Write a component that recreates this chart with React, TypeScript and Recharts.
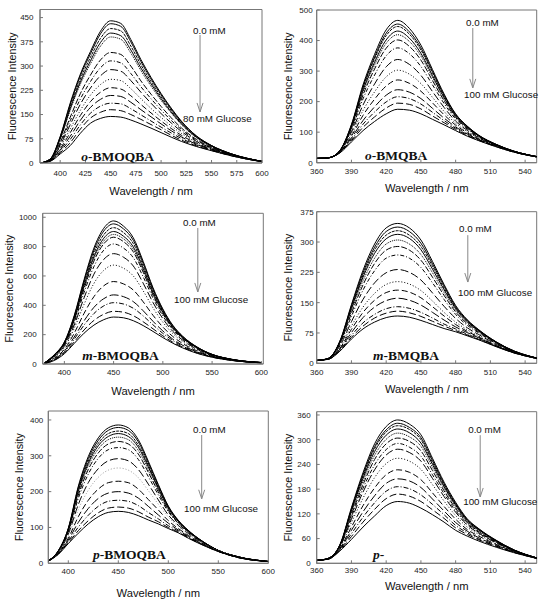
import React from "react";
import { LineChart, Line, XAxis, YAxis, ReferenceArea, ReferenceLine, ReferenceDot } from "recharts";

// ---- o-BMOQBA (top left), 0 mM -> 80 mM glucose ----
const oBmoqbaWavelengths = [380, 390, 400, 410, 420, 430, 440, 450, 460, 470, 480, 490, 500, 510, 520, 535, 550, 570, 600];
const oBmoqbaSpectra = [
  [0, 12, 82, 186, 275, 345, 408, 440, 432, 382, 320, 265, 215, 170, 130, 84, 54, 28, 5],
  [0, 12, 80, 182, 270, 338, 400, 431, 423, 375, 314, 260, 211, 167, 128, 83, 54, 28, 5],
  [0, 11, 78, 175, 260, 327, 386, 416, 409, 362, 304, 252, 205, 163, 125, 81, 53, 28, 5],
  [0, 11, 75, 169, 251, 316, 373, 402, 394, 350, 294, 245, 199, 158, 122, 80, 52, 27, 5],
  [0, 11, 73, 164, 244, 307, 362, 390, 383, 340, 286, 238, 194, 155, 119, 78, 51, 27, 5],
  [0, 10, 64, 142, 215, 272, 319, 342, 336, 300, 254, 213, 175, 140, 109, 73, 49, 26, 5],
  [0, 9, 59, 131, 198, 252, 295, 316, 310, 277, 236, 199, 164, 132, 104, 70, 47, 26, 5],
  [0, 8, 55, 119, 182, 232, 270, 289, 284, 255, 219, 185, 153, 124, 98, 67, 46, 25, 5],
  [0, 8, 49, 106, 163, 210, 243, 259, 255, 230, 199, 169, 141, 115, 92, 64, 44, 24, 4],
  [0, 7, 44, 94, 147, 190, 219, 233, 229, 208, 181, 155, 130, 107, 86, 61, 43, 24, 4],
  [0, 7, 40, 83, 132, 172, 197, 209, 206, 188, 165, 143, 121, 100, 81, 58, 42, 23, 4],
  [0, 6, 36, 73, 118, 154, 176, 185, 183, 168, 149, 130, 111, 93, 76, 56, 40, 23, 4],
  [0, 6, 32, 63, 105, 139, 157, 165, 162, 150, 135, 119, 103, 86, 71, 53, 39, 22, 4],
  [0, 5, 28, 54, 92, 123, 138, 144, 142, 133, 121, 108, 94, 80, 67, 51, 38, 22, 4],
];

// ---- o-BMQBA (top right), 0 mM -> 100 mM glucose ----
const oBmqbaWavelengths = [360, 370, 380, 390, 400, 410, 420, 430, 440, 450, 460, 470, 480, 490, 500, 515, 530, 550];
const oBmqbaSpectra = [
  [14, 16, 40, 125, 255, 355, 435, 466, 440, 385, 305, 225, 160, 120, 90, 60, 38, 20],
  [14, 16, 40, 123, 249, 346, 424, 454, 429, 376, 299, 221, 158, 119, 89, 60, 38, 20],
  [14, 16, 39, 121, 245, 340, 416, 446, 421, 369, 294, 218, 156, 118, 89, 59, 38, 20],
  [14, 16, 39, 118, 237, 329, 402, 431, 408, 358, 285, 213, 153, 116, 88, 59, 38, 20],
  [14, 16, 39, 116, 231, 320, 391, 419, 397, 349, 279, 209, 151, 115, 87, 59, 38, 20],
  [14, 16, 38, 113, 222, 307, 375, 402, 381, 336, 269, 203, 148, 113, 86, 58, 37, 20],
  [14, 16, 38, 107, 209, 287, 350, 376, 357, 315, 255, 194, 143, 110, 84, 58, 37, 20],
  [14, 16, 37, 100, 189, 258, 314, 338, 322, 286, 233, 181, 136, 106, 82, 57, 37, 20],
  [14, 16, 36, 93, 171, 232, 281, 303, 290, 259, 214, 168, 129, 102, 80, 56, 36, 19],
  [14, 16, 35, 87, 155, 208, 251, 271, 260, 234, 196, 157, 123, 98, 78, 55, 36, 19],
  [14, 16, 34, 81, 138, 183, 221, 239, 231, 210, 178, 146, 117, 94, 76, 54, 36, 19],
  [14, 16, 33, 76, 126, 166, 199, 216, 210, 192, 165, 138, 113, 92, 75, 53, 35, 19],
  [14, 16, 33, 72, 116, 150, 179, 195, 191, 176, 153, 131, 109, 89, 73, 53, 35, 19],
  [14, 16, 32, 68, 105, 135, 160, 175, 172, 160, 142, 124, 105, 87, 72, 52, 35, 19],
];

// ---- m-BMOQBA (middle left) ----
const mBmoqbaWavelengths = [380, 390, 400, 410, 420, 430, 440, 450, 460, 470, 480, 490, 500, 510, 520, 535, 550, 570, 600];
const mBmoqbaSpectra = [
  [8, 65, 150, 330, 575, 790, 925, 975, 940, 860, 700, 520, 375, 265, 190, 115, 66, 32, 10],
  [8, 64, 148, 324, 564, 774, 906, 955, 921, 843, 687, 511, 369, 261, 188, 114, 65, 32, 10],
  [8, 62, 144, 317, 550, 753, 881, 929, 896, 821, 669, 499, 361, 256, 184, 112, 65, 31, 10],
  [8, 61, 141, 309, 535, 732, 857, 903, 871, 798, 652, 487, 354, 252, 181, 110, 64, 31, 10],
  [7, 59, 139, 303, 524, 717, 838, 883, 853, 781, 639, 478, 348, 248, 179, 109, 63, 31, 10],
  [7, 58, 136, 298, 513, 701, 819, 864, 834, 764, 626, 469, 342, 244, 176, 108, 63, 31, 10],
  [7, 55, 131, 284, 487, 664, 776, 818, 790, 724, 595, 449, 328, 236, 171, 105, 61, 30, 10],
  [7, 51, 123, 265, 451, 612, 713, 752, 728, 668, 551, 419, 309, 223, 163, 100, 59, 29, 9],
  [6, 47, 113, 243, 407, 549, 638, 674, 653, 600, 499, 383, 285, 208, 153, 95, 57, 28, 9],
  [6, 40, 100, 210, 345, 459, 533, 562, 546, 504, 424, 332, 252, 188, 140, 88, 53, 27, 9],
  [5, 34, 88, 184, 294, 386, 445, 471, 459, 425, 363, 291, 225, 170, 128, 82, 51, 26, 8],
  [5, 31, 82, 169, 265, 344, 396, 418, 409, 380, 328, 267, 209, 161, 122, 79, 49, 25, 8],
  [4, 27, 75, 151, 232, 297, 339, 359, 353, 329, 288, 240, 192, 149, 115, 75, 47, 25, 8],
  [4, 25, 70, 140, 210, 265, 302, 320, 315, 295, 262, 222, 180, 142, 110, 72, 46, 24, 8],
];

// ---- m-BMQBA (middle right) ----
const mBmqbaWavelengths = [360, 370, 380, 390, 400, 410, 420, 430, 440, 450, 460, 470, 480, 490, 500, 515, 530, 550];
const mBmqbaSpectra = [
  [7, 12, 55, 145, 230, 295, 335, 346, 335, 305, 252, 195, 143, 108, 83, 53, 31, 13],
  [7, 12, 54, 142, 224, 287, 326, 337, 326, 297, 246, 191, 140, 106, 82, 53, 31, 13],
  [7, 12, 53, 138, 218, 280, 317, 328, 317, 289, 240, 186, 138, 105, 81, 52, 31, 13],
  [7, 12, 52, 135, 213, 272, 308, 319, 309, 281, 233, 182, 135, 103, 80, 52, 30, 13],
  [7, 12, 51, 130, 204, 260, 295, 305, 295, 269, 224, 175, 131, 101, 79, 51, 30, 13],
  [7, 12, 49, 124, 194, 247, 280, 289, 280, 255, 213, 168, 127, 98, 77, 50, 30, 13],
  [7, 11, 47, 116, 181, 229, 260, 268, 260, 237, 199, 158, 121, 94, 75, 49, 29, 13],
  [7, 11, 43, 103, 158, 199, 224, 232, 225, 206, 174, 141, 111, 88, 71, 47, 29, 13],
  [7, 11, 39, 92, 139, 173, 195, 202, 196, 180, 154, 126, 102, 83, 67, 45, 28, 12],
  [7, 11, 37, 84, 126, 156, 175, 181, 176, 162, 140, 117, 96, 79, 65, 44, 27, 12],
  [7, 10, 35, 76, 113, 139, 155, 161, 156, 144, 126, 107, 90, 76, 63, 43, 27, 12],
  [7, 10, 33, 69, 100, 121, 135, 140, 136, 126, 112, 97, 85, 72, 61, 42, 27, 12],
  [7, 10, 31, 64, 92, 112, 124, 129, 125, 116, 104, 92, 81, 70, 59, 42, 26, 12],
  [7, 10, 30, 60, 85, 102, 113, 117, 114, 106, 96, 86, 78, 68, 58, 41, 26, 12],
];

// ---- p-BMOQBA (bottom left) ----
const pBmoqbaWavelengths = [380, 390, 400, 410, 420, 430, 440, 450, 460, 470, 480, 490, 500, 510, 520, 535, 550, 570, 600];
const pBmoqbaSpectra = [
  [7, 35, 98, 215, 298, 350, 378, 386, 378, 345, 285, 220, 160, 120, 92, 60, 36, 18, 5],
  [7, 35, 97, 211, 292, 343, 371, 379, 371, 339, 280, 217, 158, 119, 91, 60, 36, 18, 5],
  [7, 34, 95, 206, 285, 335, 362, 369, 362, 330, 274, 212, 156, 118, 91, 59, 36, 18, 5],
  [7, 34, 94, 202, 279, 328, 354, 362, 354, 324, 269, 209, 154, 117, 90, 59, 36, 18, 5],
  [7, 34, 92, 197, 272, 319, 345, 352, 345, 315, 262, 205, 151, 115, 89, 59, 36, 18, 5],
  [7, 33, 90, 190, 262, 308, 333, 340, 333, 305, 254, 199, 148, 113, 88, 58, 35, 18, 5],
  [7, 32, 87, 181, 249, 293, 317, 323, 317, 290, 242, 191, 144, 111, 86, 57, 35, 17, 5],
  [7, 31, 81, 164, 225, 264, 286, 292, 286, 262, 221, 177, 135, 106, 83, 56, 35, 17, 5],
  [6, 30, 77, 150, 204, 240, 260, 266, 260, 239, 203, 165, 129, 103, 81, 55, 35, 17, 5],
  [6, 29, 70, 130, 176, 207, 225, 229, 225, 207, 178, 149, 119, 97, 78, 54, 34, 17, 5],
  [6, 27, 65, 114, 153, 181, 196, 200, 196, 182, 159, 135, 112, 93, 75, 52, 34, 16, 5],
  [6, 26, 61, 101, 134, 159, 173, 176, 173, 161, 142, 124, 105, 90, 73, 51, 33, 16, 5],
  [6, 26, 57, 91, 119, 141, 154, 157, 154, 144, 129, 116, 100, 87, 71, 51, 33, 16, 5],
  [6, 25, 55, 84, 110, 130, 142, 145, 142, 133, 121, 110, 97, 85, 70, 50, 33, 16, 5],
];

// ---- p-BMQBA (bottom right) ----
const pBmqbaWavelengths = [360, 370, 380, 390, 400, 410, 420, 430, 440, 450, 460, 470, 480, 490, 500, 515, 530, 550];
const pBmqbaSpectra = [
  [7, 12, 45, 135, 220, 290, 332, 348, 338, 312, 255, 197, 148, 108, 84, 56, 33, 13],
  [7, 12, 44, 132, 215, 283, 324, 340, 330, 305, 250, 193, 145, 106, 83, 55, 33, 13],
  [7, 12, 44, 130, 211, 278, 319, 334, 325, 300, 245, 190, 143, 105, 82, 55, 33, 13],
  [7, 12, 43, 127, 206, 271, 311, 326, 317, 292, 240, 186, 141, 103, 81, 54, 32, 13],
  [7, 12, 43, 123, 199, 262, 301, 316, 307, 284, 233, 182, 137, 101, 79, 53, 32, 13],
  [7, 12, 42, 118, 191, 252, 290, 304, 296, 273, 225, 176, 133, 99, 77, 52, 32, 13],
  [7, 11, 41, 113, 182, 239, 276, 291, 282, 260, 215, 169, 128, 96, 75, 51, 31, 13],
  [7, 11, 40, 107, 173, 227, 263, 277, 269, 248, 206, 162, 124, 93, 73, 50, 31, 13],
  [7, 11, 38, 99, 158, 208, 242, 255, 248, 228, 191, 151, 116, 88, 70, 48, 30, 13],
  [7, 11, 36, 88, 140, 183, 215, 227, 221, 203, 171, 138, 107, 82, 66, 46, 29, 12],
  [7, 11, 34, 80, 125, 164, 194, 205, 200, 184, 156, 127, 99, 78, 62, 44, 28, 12],
  [7, 10, 33, 72, 112, 147, 175, 186, 181, 166, 143, 118, 92, 74, 59, 42, 27, 12],
  [7, 10, 31, 65, 100, 131, 157, 168, 163, 150, 130, 109, 86, 70, 57, 41, 27, 12],
  [7, 10, 30, 58, 88, 115, 140, 150, 146, 134, 118, 100, 80, 66, 54, 39, 26, 12],
];

// tick labels
const ticksA_x = [400, 425, 450, 475, 500, 525, 550, 575, 600];
const ticksA_y = [0, 75, 150, 225, 300, 375, 450];
const ticksB_x = [360, 390, 420, 450, 480, 510, 540];
const ticksB_y = [0, 100, 200, 300, 400, 500];
const ticksC_x = [400, 450, 500, 550, 600];
const ticksC_y = [0, 200, 400, 600, 800, 1000];
const ticksD_y = [0, 75, 150, 225, 300, 375];
const ticksE_y = [0, 100, 200, 300, 400];
const ticksF_y = [0, 60, 120, 180, 240, 300, 360];

const dashes = ["", "", "3 1", "", "1 1", "6 2", "4 2 1 2", "8 3", "1 2", "6 3", "9 3", "5 2 1 2", "7 3", ""];
const tickFont = "'Liberation Sans Narrow', 'Liberation Sans', Arial, sans-serif";

type Panel = {
  box: { left: number; top: number; width: number; height: number };
  plot: { left: number; right: number; top: number; bottom: number };
  xDomain: [number, number];
  yDomain: [number, number];
  xTicks: number[];
  yTicks: number[];
  wavelengths: number[];
  spectra: number[][];
  xBaseline: number;
  yLabelX: number;
  xGap: number;
  yGap: number;
  arrow: { x: number; top: number; bottom: number; tdx: number; tdy: number; bdx: number; bdy: number; text: string };
  name: { x: number; y: number; prefix: string; rest: string };
  gray?: number;
};

const panels: Panel[] = [
  {
    box: { left: 0, top: 0, width: 271, height: 200 },
    plot: { left: 40, right: 262, top: 9.5, bottom: 163 },
    xDomain: [380, 600], yDomain: [0, 475], xTicks: ticksA_x, yTicks: ticksA_y,
    wavelengths: oBmoqbaWavelengths, spectra: oBmoqbaSpectra,
    xBaseline: 195, yLabelX: 12, xGap: 7.4, yGap: 6.5,
    arrow: { x: 538.6, top: 396, bottom: 158, tdx: -7, tdy: -1.5, bdx: -17, bdy: 10, text: "80 mM Glucose" },
    name: { x: 421, y: 5, prefix: "o", rest: "-BMOQBA" },
  },
  {
    box: { left: 271, top: 0, width: 271, height: 200 },
    plot: { left: 316.7, right: 536.7, top: 10, bottom: 162.7 },
    xDomain: [360, 550], yDomain: [0, 500], xTicks: ticksB_x, yTicks: ticksB_y,
    wavelengths: oBmqbaWavelengths, spectra: oBmqbaSpectra,
    xBaseline: 192, yLabelX: 288, xGap: 5.6, yGap: 4,
    arrow: { x: 494.8, top: 441, bottom: 245, tdx: -6.7, tdy: -2, bdx: -8.7, bdy: 10.3, text: "100 mM Glucose" },
    name: { x: 401.7, y: 9, prefix: "o", rest: "-BMQBA" },
  },
  {
    box: { left: 0, top: 200, width: 271, height: 200 },
    plot: { left: 42.7, right: 263.3, top: 213.3, bottom: 364 },
    xDomain: [378, 602], yDomain: [0, 1027], xTicks: ticksC_x, yTicks: ticksC_y,
    wavelengths: mBmoqbaWavelengths, spectra: mBmoqbaSpectra,
    xBaseline: 395, yLabelX: 9, xGap: 5.5, yGap: 6,
    arrow: { x: 535.5, top: 927, bottom: 491, tdx: -14.7, tdy: -2, bdx: -23.7, bdy: 11.3, text: "100 mM Glucose" },
    name: { x: 418.2, y: 27, prefix: "m", rest: "-BMOQBA" },
  },
  {
    box: { left: 271, top: 200, width: 271, height: 200 },
    plot: { left: 316.7, right: 536.7, top: 211.7, bottom: 363.3 },
    xDomain: [360, 550], yDomain: [0, 375], xTicks: ticksB_x, yTicks: ticksD_y,
    wavelengths: mBmqbaWavelengths, spectra: mBmqbaSpectra,
    xBaseline: 393, yLabelX: 287.7, xGap: 6.5, yGap: 3,
    arrow: { x: 490.5, top: 317, bottom: 201, tdx: -8.7, tdy: -2.7, bdx: -9.7, bdy: 14, text: "100 mM Glucose" },
    name: { x: 408.7, y: 8, prefix: "m", rest: "-BMQBA" },
  },
  {
    box: { left: 0, top: 400, width: 281, height: 199 },
    plot: { left: 48.3, right: 268.3, top: 411, bottom: 563.3 },
    xDomain: [380, 600], yDomain: [0, 425], xTicks: ticksC_x, yTicks: ticksE_y,
    wavelengths: pBmoqbaWavelengths, spectra: pBmoqbaSpectra,
    xBaseline: 597, yLabelX: 18.7, xGap: 5.5, yGap: 5,
    arrow: { x: 533.4, top: 358, bottom: 180, tdx: -8.7, tdy: -1.7, bdx: -17.7, bdy: 13.3, text: "100 mM Glucose" },
    name: { x: 424.7, y: 11, prefix: "p", rest: "-BMOQBA" },
    gray: 8,
  },
  {
    box: { left: 271, top: 400, width: 271, height: 199 },
    plot: { left: 316.7, right: 536.7, top: 411.7, bottom: 563.3 },
    xDomain: [360, 550], yDomain: [0, 368], xTicks: ticksB_x, yTicks: ticksF_y,
    wavelengths: pBmqbaWavelengths, spectra: pBmqbaSpectra,
    xBaseline: 590, yLabelX: 287.7, xGap: 4, yGap: 6,
    arrow: { x: 501.2, top: 311, bottom: 161, tdx: -12, tdy: -1.7, bdx: -17, bdy: 8, text: "100 mM Glucose" },
    name: { x: 408.7, y: 10, prefix: "p", rest: "-" },
  },
];

function SpectraPanel({ p }: { p: Panel }) {
  const { box, plot, arrow, name } = p;
  const rows = p.wavelengths.map((wl, i) => {
    const row: Record<string, number> = { wl };
    p.spectra.forEach((s, k) => {
      row[`c${k}`] = s[i];
    });
    return row;
  });
  const margin = {
    top: plot.top - box.top,
    right: box.left + box.width - plot.right,
    bottom: box.top + box.height - p.xBaseline,
    left: 0,
  };
  const tick = { fontSize: 8, fill: "#222", fontFamily: tickFont };

  const arrowShape = (s: any) => (
    <g>
      <line x1={s.x1} y1={s.y1} x2={s.x2} y2={s.y2} stroke="#888" strokeWidth={1} />
      <path d={`M${s.x2 - 3},${s.y2 - 9} L${s.x2},${s.y2} L${s.x2 + 3},${s.y2 - 9}`} fill="none" stroke="#888" strokeWidth={1} />
      <text x={s.x1 + arrow.tdx} y={s.y1 + arrow.tdy} fontSize={9.8} fill="#111">0.0 mM</text>
      <text x={s.x2 + arrow.bdx} y={s.y2 + arrow.bdy} fontSize={9.8} fill="#111">{arrow.text}</text>
    </g>
  );

  const nameShape = (d: any) => (
    <text x={d.cx} y={d.cy} fontFamily="'Liberation Serif', 'Times New Roman', serif" fontWeight="bold" fontSize={13.5} fill="#111">
      <tspan fontStyle="italic">{name.prefix}</tspan>
      {name.rest}
    </text>
  );

  return (
    <div style={{ position: "absolute", left: box.left, top: box.top }}>
      <LineChart width={box.width} height={box.height} data={rows} margin={margin}>
        <ReferenceArea x1={p.xDomain[0]} x2={p.xDomain[1]} y1={p.yDomain[0]} y2={p.yDomain[1]} fill="none" stroke="#777" strokeWidth={1} />
        <XAxis
          type="number"
          dataKey="wl"
          domain={p.xDomain}
          ticks={p.xTicks}
          interval={0}
          allowDataOverflow
          height={p.xBaseline - plot.bottom}
          tickSize={-3}
          tickMargin={p.xGap + 3}
          axisLine={{ stroke: "#777" }}
          tickLine={{ stroke: "#777" }}
          tick={tick}
          label={{ value: "Wavelength / nm", position: "insideBottom", offset: 0, fontSize: 11.2, fill: "#111" }}
        />
        <YAxis
          type="number"
          domain={p.yDomain}
          ticks={p.yTicks}
          interval={0}
          allowDataOverflow
          width={plot.left - box.left}
          tickSize={-3}
          tickMargin={p.yGap + 3}
          axisLine={{ stroke: "#777" }}
          tickLine={{ stroke: "#777" }}
          tick={tick}
          label={{
            value: "Fluorescence Intensity",
            angle: -90,
            position: "insideLeft",
            offset: p.yLabelX - box.left,
            fontSize: 10.8,
            fill: "#111",
            style: { textAnchor: "middle" },
          }}
        />
        {p.spectra.map((_, k) => (
          <Line
            key={k}
            dataKey={`c${k}`}
            type="monotone"
            dot={false}
            activeDot={false}
            isAnimationActive={false}
            stroke={p.gray === k ? "#999" : "#000"}
            strokeWidth={1}
            strokeDasharray={dashes[k % dashes.length]}
          />
        ))}
        <ReferenceLine segment={[{ x: arrow.x, y: arrow.top }, { x: arrow.x, y: arrow.bottom }]} shape={arrowShape} />
        <ReferenceDot x={name.x} y={name.y} r={1} shape={nameShape} />
      </LineChart>
    </div>
  );
}

export default function App() {
  return (
    <div
      style={{
        position: "absolute",
        left: 0,
        top: 0,
        width: 542,
        height: 599,
        background: "#fff",
        overflow: "hidden",
        fontFamily: "'Liberation Sans', Arial, sans-serif",
      }}
    >
      {panels.map((p, i) => (
        <SpectraPanel key={i} p={p} />
      ))}
    </div>
  );
}
